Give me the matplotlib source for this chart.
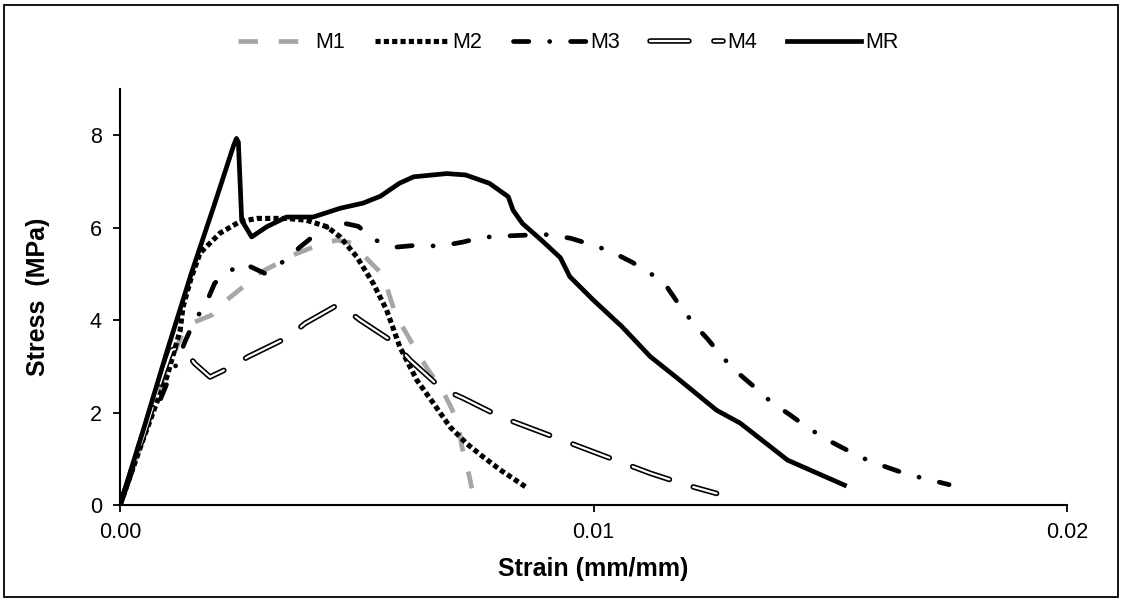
import matplotlib
matplotlib.use("Agg")
import matplotlib.pyplot as plt
from matplotlib.patches import Rectangle

plt.rcParams['font.family'] = ['Liberation Sans', 'DejaVu Sans']
plt.rcParams['lines.scale_dashes'] = False

# Data (strain in mm/mm, stress in MPa)
m1_x = [0, 0.0005, 0.001, 0.0014, 0.00158, 0.00194, 0.00225, 0.0026, 0.00292, 0.00334,
        0.00373, 0.00408, 0.00458, 0.00493, 0.00524, 0.00556, 0.0057, 0.00584, 0.00605,
        0.00627, 0.00651, 0.00679, 0.00697, 0.00714, 0.00722, 0.00732, 0.00743]
m1_y = [0, 1.5, 2.95, 3.9, 3.96, 4.11, 4.43, 4.72, 5.01, 5.23,
        5.44, 5.58, 5.73, 5.66, 5.30, 4.97, 4.50, 4.07, 3.71,
        3.31, 2.92, 2.52, 2.16, 1.77, 1.26, 0.90, 0.36]

m2_x = [0, 0.0005, 0.00077, 0.00099, 0.00127, 0.00133, 0.0015, 0.00169, 0.00211, 0.00253,
        0.00289, 0.00352, 0.00394, 0.00437, 0.00465, 0.0050, 0.00535, 0.00563, 0.00591,
        0.00627, 0.00662, 0.00697, 0.00732, 0.00767, 0.00803, 0.0086]
m2_y = [0, 1.45, 2.2, 2.77, 3.78, 4.28, 4.9, 5.45, 5.88, 6.13,
        6.20, 6.20, 6.16, 6.02, 5.80, 5.37, 4.79, 4.22, 3.42,
        2.70, 2.20, 1.69, 1.33, 1.04, 0.76, 0.37]

m3_x = [0, 0.0005, 0.00083, 0.00102, 0.0012, 0.00137, 0.00158, 0.0018, 0.0020, 0.0023,
        0.0026, 0.00306, 0.0035, 0.0038, 0.00415, 0.00458, 0.00503, 0.00539, 0.00584,
        0.00627, 0.00676, 0.00725, 0.00764, 0.00813, 0.00862, 0.00904, 0.00952, 0.0100,
        0.01038, 0.01082, 0.01126, 0.01155, 0.01183, 0.01214, 0.01242, 0.01272, 0.01306,
        0.01338, 0.01375, 0.01415, 0.0145, 0.0149, 0.01535, 0.0157, 0.01616, 0.01661,
        0.01704, 0.01751]
m3_y = [0, 1.62, 2.23, 2.70, 3.06, 3.53, 4.0, 4.32, 4.8, 5.05,
        5.23, 5.01, 5.3, 5.58, 5.87, 6.13, 6.03, 5.73, 5.58,
        5.62, 5.60, 5.69, 5.79, 5.82, 5.84, 5.85, 5.77, 5.62,
        5.48, 5.25, 4.97, 4.72, 4.30, 3.89, 3.58, 3.20, 2.85,
        2.57, 2.23, 1.95, 1.69, 1.43, 1.19, 1.01, 0.83, 0.67,
        0.56, 0.44]

m4_x = [0, 0.0005, 0.0009, 0.00109, 0.0013, 0.00158, 0.0019, 0.00229, 0.00271, 0.00355,
        0.00391, 0.00458, 0.00472, 0.00507, 0.00581, 0.00612, 0.00679, 0.00725, 0.00803,
        0.01119, 0.01197, 0.0126]
m4_y = [0, 1.5, 2.8, 3.35, 3.42, 3.06, 2.77, 2.96, 3.21, 3.63,
        3.93, 4.32, 4.27, 4.00, 3.50, 3.14, 2.52, 2.31, 1.91,
        0.69, 0.43, 0.25]

mr_x = [0, 0.0005, 0.001, 0.0015, 0.002, 0.0024, 0.00246, 0.0025, 0.00257, 0.00278,
        0.0031, 0.00352, 0.00408, 0.00465, 0.00513, 0.0055, 0.0059, 0.0062, 0.0069,
        0.0073, 0.0078, 0.0082, 0.0083, 0.0085, 0.0089, 0.0093, 0.0095, 0.0100, 0.0106,
        0.0112, 0.0118, 0.0126, 0.0131, 0.0141, 0.0153]
mr_y = [0, 1.65, 3.35, 4.99, 6.52, 7.78, 7.93, 7.85, 6.16, 5.80,
        6.02, 6.23, 6.23, 6.42, 6.53, 6.68, 6.96, 7.10, 7.17,
        7.14, 6.96, 6.67, 6.38, 6.09, 5.73, 5.35, 4.94, 4.43, 3.86,
        3.21, 2.72, 2.05, 1.77, 0.97, 0.43]

x_ticks = [0, 0.01, 0.02]
x_labels = ["0.00", "0.01", "0.02"]
y_ticks = [0, 2, 4, 6, 8]

fig = plt.figure(figsize=(11.21, 5.99), dpi=100)
ax = fig.add_axes([120 / 1121, 1 - 505 / 599, (1067 - 120) / 1121, (505 - 89) / 599])

lw = 3.4
l1, = ax.plot(m1_x, m1_y, color='#a6a6a6', lw=lw, dashes=(14, 15),
              dash_capstyle='butt', solid_joinstyle='round')
l2, = ax.plot(m2_x, m2_y, color='black', lw=3.7, dashes=(3.7, 2.3),
              dash_capstyle='butt')
l3, = ax.plot(m3_x, m3_y, color='black', lw=lw, dashes=(11, 15, 0.1, 15),
              dash_capstyle='round')
l4a, = ax.plot(m4_x, m4_y, color='black', lw=4.0, dashes=(28, 18),
               dash_capstyle='round')
l4b, = ax.plot(m4_x, m4_y, color='white', lw=1.6, dashes=(28, 18),
               dash_capstyle='round')
l5, = ax.plot(mr_x, mr_y, color='black', lw=lw, solid_joinstyle='round')

ax.set_xlim(0, 0.02)
ax.set_ylim(0, 9)
ax.set_xticks(x_ticks)
ax.set_xticklabels(x_labels)
ax.set_yticks(y_ticks)
ax.tick_params(labelsize=15.5, direction='out', length=5, width=1.3, colors='black')
ax.tick_params(axis='x', pad=7)
ax.tick_params(axis='y', pad=8)
for s in ['top', 'right']:
    ax.spines[s].set_visible(False)
for s in ['left', 'bottom']:
    ax.spines[s].set_linewidth(1.5)

ax.set_xlabel("Strain (mm/mm)", fontsize=18, fontweight='bold')
ax.set_ylabel("Stress  (MPa)", fontsize=18, fontweight='bold')
ax.xaxis.set_label_coords(0.5, -0.125)
ax.yaxis.set_label_coords(-0.074, 0.5)

# legend across the top
fig.legend([l1, l2, l3, (l4a, l4b), l5], ["M1", "M2", "M3", "M4", "MR"],
           loc='center', bbox_to_anchor=(568 / 1121, 1 - 43 / 599), ncol=5,
           frameon=False, fontsize=15.5, handlelength=3.4, handletextpad=0.2,
           columnspacing=1.4)

# chart border
fig.patches.append(Rectangle((0.004, 0.004), 0.993, 0.988, transform=fig.transFigure,
                             fill=False, edgecolor='black', lw=1.3))

fig.savefig("out.png", dpi=100)
